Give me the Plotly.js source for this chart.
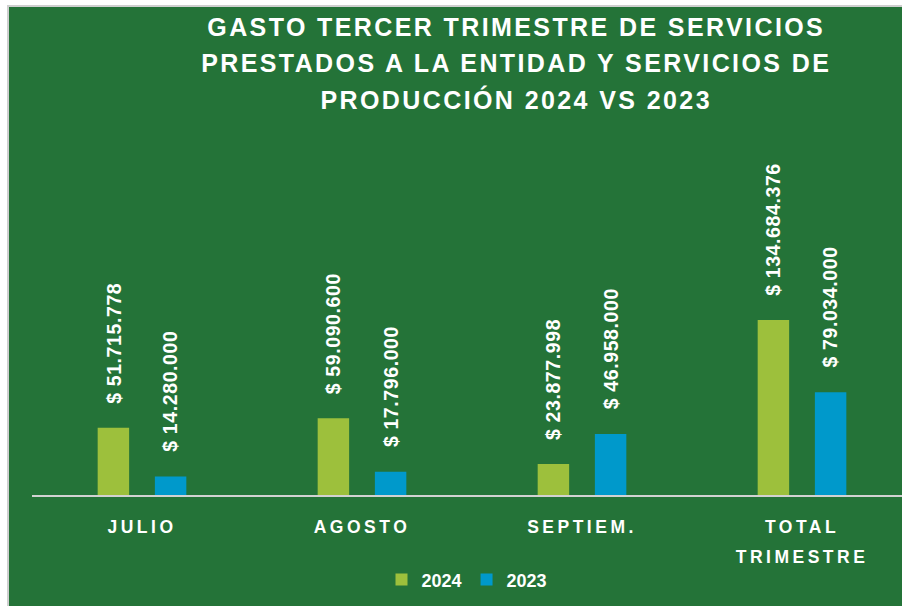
<!DOCTYPE html>
<html>
<head>
<meta charset="utf-8">
<script src="https://cdn.plot.ly/plotly-3.0.1.min.js"></script>
<style>
html,body{margin:0;padding:0;background:#ffffff;width:902px;height:606px;overflow:hidden;}
#wrap{position:absolute;left:7px;top:5px;width:895px;height:601px;border-left:2px solid #cfcfcf;border-top:2px solid #cfcfcf;}
#chart{width:893px;height:599px;}
#chart .gtitle{letter-spacing:2.4px;}
#chart .xtick text{letter-spacing:3.5px;}
#chart .annotation-text{letter-spacing:0.6px;}
</style>
</head>
<body>
<div id="wrap"><div id="chart"></div></div>
<script>
const categories = ["JULIO", "AGOSTO", "SEPTIEM.", "TOTAL<br>TRIMESTRE"];
const values2024 = [51715778, 59090600, 23877998, 134684376];
const values2023 = [14280000, 17796000, 46958000, 79034000];
const seriesNames = ["2024", "2023"];

function fmt(v){
  return "$ " + String(v).replace(/\B(?=(\d{3})+(?!\d))/g, ".");
}

const green = "#9DC03C";
const blue = "#0099CB";
const bg = "#247338";

const traces = [
  {type:"bar", name:seriesNames[0], x:categories, y:values2024, marker:{color:green}, hoverinfo:"none"},
  {type:"bar", name:seriesNames[1], x:categories, y:values2023, marker:{color:blue}, hoverinfo:"none"}
];

const annotations = [];
const shift = 28.6;
[values2024, values2023].forEach((vals, si) => {
  vals.forEach((v, i) => {
    annotations.push({
      x: categories[i], y: v, xref:"x", yref:"y",
      text: fmt(v), showarrow:false, textangle:-90,
      xanchor:"center", yanchor:"bottom",
      xshift: si === 0 ? -shift : shift, yshift: 27, borderpad:0,
      font:{family:"Liberation Sans, Arial, sans-serif", size:19.5, color:"#ffffff", weight:"bold"}
    });
  });
});

const layout = {
  width:893, height:599,
  paper_bgcolor:bg, plot_bgcolor:bg,
  margin:{l:23, r:0, t:130, b:111},
  title:{
    text:"GASTO TERCER TRIMESTRE DE SERVICIOS<br>PRESTADOS A LA ENTIDAD Y SERVICIOS DE<br>PRODUCCIÓN 2024 VS 2023",
    font:{family:"Liberation Sans, Arial, sans-serif", size:25, color:"#ffffff", weight:"bold"},
    x:0.568, xanchor:"center", xref:"container",
    y:0.952, yanchor:"top", yref:"container"
  },
  barmode:"group", bargap:0.48, bargroupgap:0.45,
  xaxis:{
    range:[-0.5, 3.4545], showgrid:false, zeroline:false,
    showline:true, linecolor:"#d2d2d2", linewidth:2,
    ticks:"outside", ticklen:15, tickcolor:"rgba(0,0,0,0)",
    tickfont:{family:"Liberation Sans, Arial, sans-serif", size:17.5, color:"#ffffff", weight:"bold"},
    fixedrange:true
  },
  yaxis:{
    range:[0, 275.4e6], visible:false, showgrid:false, zeroline:false, fixedrange:true
  },
  showlegend:true,
  legend:{
    orientation:"h", x:0.5, xanchor:"center", y:-0.237, yanchor:"middle",
    font:{family:"Liberation Sans, Arial, sans-serif", size:18, color:"#ffffff", weight:"bold"},
    bgcolor:"rgba(0,0,0,0)", itemwidth:30, traceorder:"normal"
  },
  annotations:annotations
};

Plotly.newPlot("chart", traces, layout, {displayModeBar:false, staticPlot:true}).then(function(){
  document.querySelectorAll("#chart .xtick text tspan.line").forEach(function(t){
    const dy = t.getAttribute("dy");
    if (dy && parseFloat(dy) > 0) { t.setAttribute("dy", (parseFloat(dy) * 1.7 / 1.3).toFixed(3) + "em"); }
  });
  document.querySelectorAll("#chart .gtitle tspan.line").forEach(function(t){
    const dy = t.getAttribute("dy");
    if (dy && parseFloat(dy) > 0) { t.setAttribute("dy", (parseFloat(dy) * 1.46 / 1.3).toFixed(3) + "em"); }
  });
});
</script>
</body>
</html>
